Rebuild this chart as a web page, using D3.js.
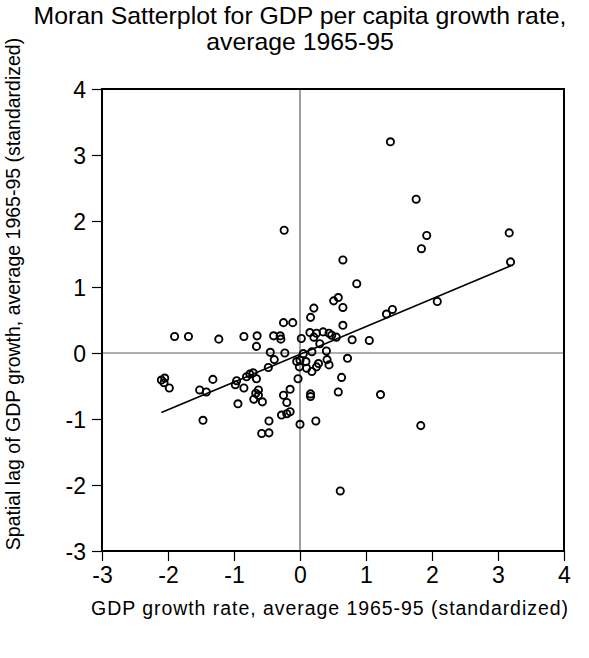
<!DOCTYPE html>
<html><head><meta charset="utf-8">
<script src="https://cdn.jsdelivr.net/npm/d3@7"></script>
<style>body{margin:0;background:#fff}svg{display:block}text{font-family:"Liberation Sans",Arial,sans-serif;fill:#000}</style>
</head><body>
<script>
// Data: standardized GDP growth (x) and its spatial lag (y)
const gdpGrowth = [-0.24,1.37,1.76,1.92,1.84,3.17,3.19,0.65,0.86,0.51,0.58,0.65,0.21,0.16,-0.25,-0.11,0.65,2.08,1.31,1.40,
 -1.90,-1.69,-1.23,-0.85,-0.65,-0.66,-0.40,-0.30,-0.29,0.02,0.15,0.25,0.35,0.44,0.48,0.55,0.21,0.30,0.79,1.05,
 0.40,0.05,0.18,-0.45,-0.23,-0.39,0.00,0.09,-0.05,-0.01,0.10,0.18,0.28,0.25,0.41,0.44,0.72,-0.48,0.63,-0.03,
 -0.76,-0.71,-0.81,-0.66,-0.85,-0.96,-0.98,-0.94,-0.63,-0.67,-0.70,-0.63,-0.57,-0.25,-0.15,-0.20,-0.15,-0.20,-0.28,0.16,
 0.16,0.58,1.22,-0.47,0.00,0.24,-0.58,-0.47,1.83,0.61,-2.10,-2.05,-2.06,-1.98,-1.52,-1.42,-1.32,-1.47];
const spatialLag = [1.86,3.20,2.33,1.78,1.58,1.82,1.38,1.41,1.05,0.79,0.84,0.69,0.68,0.54,0.46,0.46,0.42,0.78,0.59,0.66,
 0.25,0.25,0.21,0.25,0.26,0.10,0.26,0.26,0.21,0.22,0.31,0.30,0.32,0.30,0.27,0.24,0.24,0.14,0.20,0.19,
 0.03,-0.01,0.02,0.01,0.00,-0.10,-0.11,-0.13,-0.13,-0.21,-0.23,-0.28,-0.16,-0.21,-0.10,-0.18,-0.08,-0.22,-0.37,-0.39,
 -0.32,-0.30,-0.36,-0.39,-0.53,-0.42,-0.48,-0.77,-0.56,-0.61,-0.70,-0.64,-0.74,-0.64,-0.55,-0.75,-0.89,-0.92,-0.94,-0.62,
 -0.66,-0.59,-0.63,-1.03,-1.08,-1.03,-1.22,-1.21,-1.10,-2.09,-0.41,-0.38,-0.45,-0.53,-0.56,-0.59,-0.40,-1.02];
const fitIntercept = -0.02, fitSlope = 0.42;
const xTicks = [-3,-2,-1,0,1,2,3,4];
const yTicks = [-3,-2,-1,0,1,2,3,4];
const titleLines = ["Moran Satterplot for GDP per capita growth rate,", "average 1965-95"];
const xTitle = "GDP growth rate, average 1965-95 (standardized)";
const yTitle = "Spatial lag of GDP growth, average 1965-95 (standardized)";

const W = 589, H = 658;
const m = {left:102, right:564, top:89, bottom:551};
const svg = d3.select("body").append("svg").attr("width",W).attr("height",H);
const x = d3.scaleLinear().domain([-3,4]).range([m.left,m.right]);
const y = d3.scaleLinear().domain([-3,4]).range([m.bottom,m.top]);

// zero lines
svg.append("line").attr("x1",x(0)).attr("x2",x(0)).attr("y1",m.top).attr("y2",m.bottom).attr("stroke","#606060").attr("stroke-width",1.2);
svg.append("line").attr("x1",m.left).attr("x2",m.right).attr("y1",y(0)).attr("y2",y(0)).attr("stroke","#606060").attr("stroke-width",1.2);

// axes
const fmt = d => String(d);
const xAxis = svg.append("g").attr("transform",`translate(0,${m.bottom})`)
  .call(d3.axisBottom(x).tickValues(xTicks).tickSize(10).tickPadding(6).tickFormat(fmt));
const yAxis = svg.append("g").attr("transform",`translate(${m.left},0)`)
  .call(d3.axisLeft(y).tickValues(yTicks).tickSize(10).tickPadding(6).tickFormat(fmt));
[xAxis,yAxis].forEach(g=>{
  g.select(".domain").remove();
  g.selectAll(".tick line").attr("stroke","#000").attr("stroke-width",1.2);
  g.selectAll(".tick text").attr("font-size",23).attr("font-family","'Liberation Sans',Arial,sans-serif").attr("fill","#000");
});
yAxis.selectAll(".tick text").attr("dy","0.36em");

// frame
svg.append("rect").attr("x",m.left).attr("y",m.top).attr("width",m.right-m.left).attr("height",m.bottom-m.top)
  .attr("fill","none").attr("stroke","#000").attr("stroke-width",2);

// fit line
const xmin = d3.min(gdpGrowth), xmax = d3.max(gdpGrowth);
svg.append("line").attr("x1",x(xmin)).attr("y1",y(fitIntercept+fitSlope*xmin))
  .attr("x2",x(xmax)).attr("y2",y(fitIntercept+fitSlope*xmax)).attr("stroke","#000").attr("stroke-width",1.6);

// points
svg.append("g").selectAll("circle").data(d3.range(gdpGrowth.length)).join("circle")
  .attr("cx",i=>x(gdpGrowth[i])).attr("cy",i=>y(spatialLag[i])).attr("r",3.6)
  .attr("fill","none").attr("stroke","#000").attr("stroke-width",1.9);

// titles
svg.append("text").attr("x",300).attr("y",24).attr("text-anchor","middle").attr("font-size",24.8).text(titleLines[0]);
svg.append("text").attr("x",300).attr("y",50).attr("text-anchor","middle").attr("font-size",24.8).text(titleLines[1]);
svg.append("text").attr("x",330).attr("y",615).attr("text-anchor","middle").attr("font-size",19.5).attr("letter-spacing",0.95).text(xTitle);
svg.append("text").attr("transform","translate(20,294) rotate(-90)").attr("text-anchor","middle").attr("font-size",19.5).text(yTitle);
</script>
</body></html>
